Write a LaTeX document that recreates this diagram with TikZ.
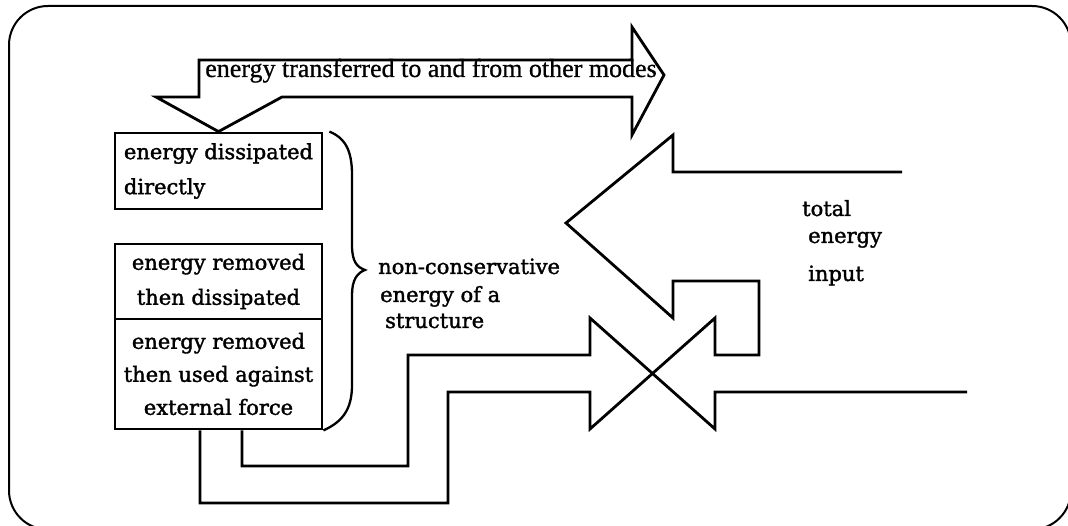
\documentclass[tikz,border=0pt]{standalone}
\usepackage{fontspec}
\setmainfont[FakeBold=1.6]{DejaVu Serif}
\newfontfamily\topfont[FakeBold=0.8]{Liberation Serif}
\begin{document}
\begin{tikzpicture}[x=1pt,y=-1pt,line join=miter,
  frame/.style={line width=2pt},
  flow/.style={line width=2.8pt},
  box/.style={draw,line width=2.8pt,inner sep=0pt,align=center,minimum width=207pt,font=\fontsize{21}{35}\selectfont},
  lbl/.style={inner sep=0pt,anchor=base west,font=\fontsize{21}{27}\selectfont}]
\useasboundingbox (0,0) rectangle (1068,526);
\clip (0,0) rectangle (1068,526);
\draw[frame,rounded corners=39pt] (9,6) rectangle (1071,529.5);
% boxes
\node[box,minimum height=76pt,align=left] (b1) at (218.5,171) {energy dissipated\\directly};
\node[box,minimum height=75pt] (b2) at (218.5,281.5) {energy removed\\then dissipated};
\node[box,minimum height=110pt,font=\fontsize{21}{33}\selectfont] (b3) at (218.5,374) {energy removed\\then used against\\external force};
% top transfer arrow
\draw[flow] (199,60) -- (632,60) -- (632,27) -- (664,75) -- (632,135) -- (632,97) -- (282,97) -- (b1.north) -- (156,97) -- (199,97) -- cycle;
\node[inner sep=0pt,anchor=base,font=\topfont\fontsize{26}{26}\selectfont] (tt) at (431,77) {energy transferred to and from other modes};
% brace
\draw[flow,line width=2.3pt] (b1.north east) ++(6,0) coordinate (br0) .. controls (345,138) and (352,150) .. (352,175) -- (352,245) .. controls (352,262) and (357,267) .. (365,270) .. controls (357,273) and (352,280) .. (352,295) -- (352,385) .. controls (352,410) and (342,422) .. (b3.south east);
\node[lbl] (n1) at (378,274) {non-conservative};
\node[lbl] (n2) at (380,302) {energy of a};
\node[lbl] (n3) at (385,328) {structure};
% input
\node[lbl] (i1) at (802,216) {total};
\node[lbl] (i2) at (808,243) {energy};
\node[lbl] (i3) at (808,281) {input};
\coordinate (outA) at (902,172);
\coordinate (inB) at (967,392);
\path (b3.south) ++(-18.5,0) coordinate (e1) (b3.south) ++(23.5,0) coordinate (e2);
\draw[flow] (outA) -- (673,172) -- (673,135) -- (566,223) -- (673,318) -- (673,281) -- (759,281) -- (759,355) -- (715,355) -- (715,318) -- (590,429) -- (590,392) -- (448,392) -- (448,503) -- (200,503) -- (e1);
\draw[flow] (inB) -- (715,392) -- (715,429) -- (590,318) -- (590,355) -- (408,355) -- (408,466) -- (242,466) -- (e2);
\end{tikzpicture}
\end{document}
